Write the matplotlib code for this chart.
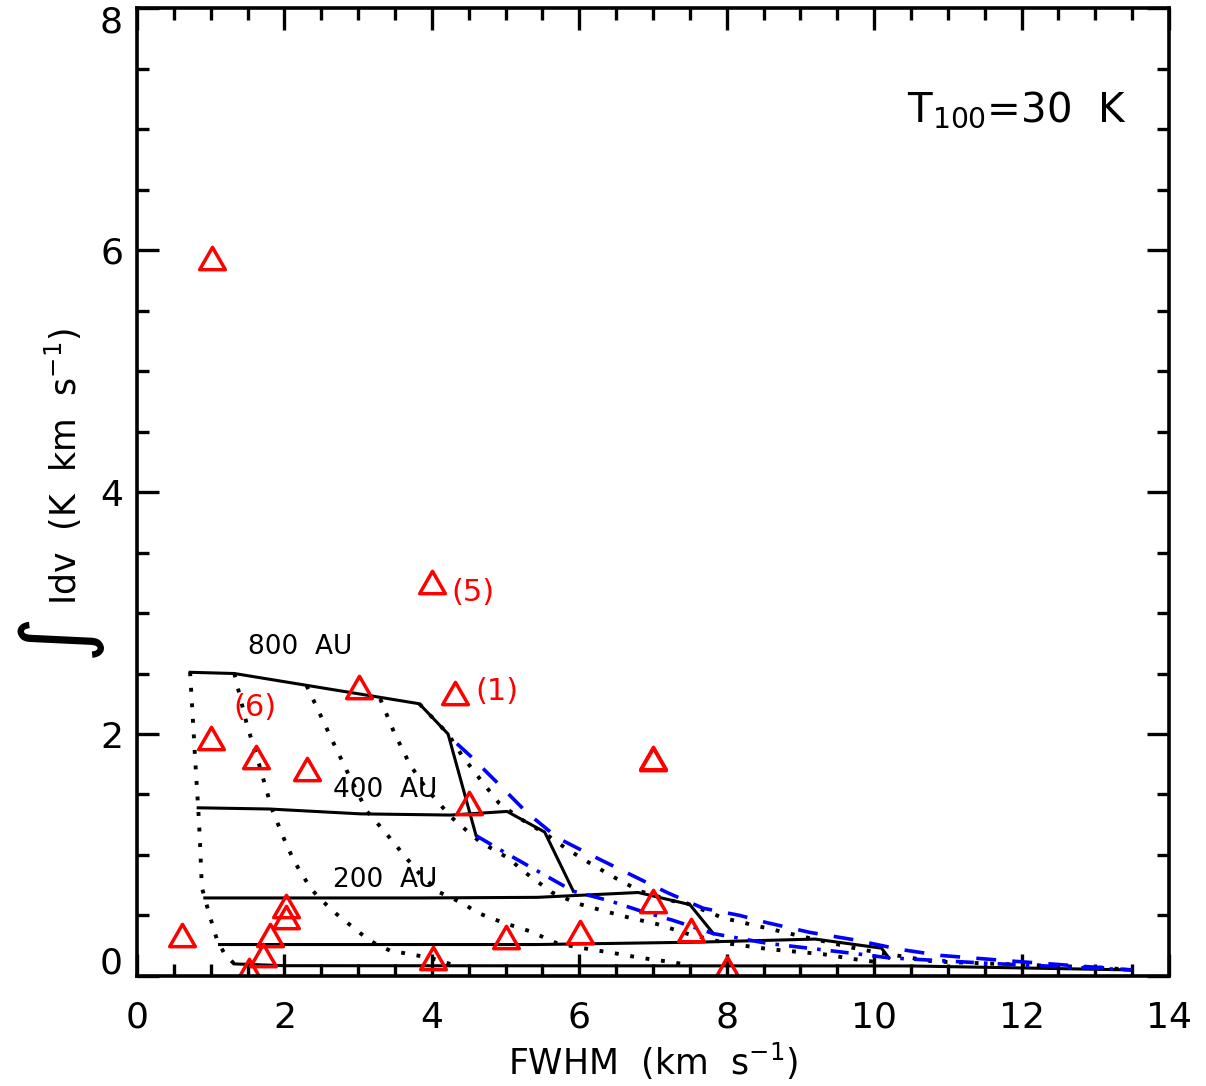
import numpy as np
import matplotlib
matplotlib.use("Agg")
import matplotlib.pyplot as plt
from matplotlib.path import Path

plt.rcParams['font.family'] = ['DejaVu Sans']
plt.rcParams['mathtext.fontset'] = 'dejavusans'

# observed sources: FWHM (km/s), integrated intensity (K km/s)
fwhm_obs = [1.02, 4.0, 3.01, 4.31, 1.0, 1.62, 2.31, 7.0, 7.0, 4.51,
            0.61, 2.02, 2.02, 1.8, 1.71, 1.52, 4.01, 5.01, 6.01, 7.0, 7.51, 8.0]
iint_obs = [5.93, 3.26, 2.39, 2.34, 1.97, 1.81, 1.71, 1.80, 1.79, 1.43,
            0.34, 0.58, 0.49, 0.34, 0.17, 0.05, 0.15, 0.32, 0.36, 0.62, 0.38, 0.07]

# source labels
src_names = ["(5)", "(1)", "(6)"]
src_x = [4.56, 4.88, 1.6]
src_y = [3.17, 2.35, 2.22]

# model grid: constant outer radius (solid)
r800_x = [0.72, 1.32, 3.83, 4.22, 4.60]
r800_y = [2.51, 2.50, 2.25, 2.00, 1.16]
r400_x = [0.83, 1.80, 3.03, 4.25, 5.02, 5.53, 5.92]
r400_y = [1.39, 1.38, 1.34, 1.33, 1.36, 1.19, 0.70]
r200_x = [0.92, 3.84, 5.43, 6.80, 7.50, 7.82]
r200_y = [0.645, 0.645, 0.65, 0.69, 0.59, 0.35]
r100_x = [1.12, 5.43, 7.64, 9.20, 10.10, 10.20]
r100_y = [0.26, 0.26, 0.28, 0.305, 0.23, 0.15]
r50_x = [1.32, 2.0, 10.5, 13.5]
r50_y = [0.10, 0.085, 0.083, 0.05]

# model grid: dotted curves
d1_x = [0.72, 0.76, 0.79, 0.83, 0.85, 0.88, 0.92, 0.98, 1.08, 1.12, 1.19, 1.32]
d1_y = [2.51, 2.10, 1.78, 1.39, 1.17, 0.73, 0.645, 0.51, 0.31, 0.26, 0.18, 0.10]
d2_x = [1.32, 1.49, 1.67, 1.83, 1.99, 2.13, 2.35, 2.47, 2.71, 3.16, 3.43, 3.98, 4.30]
d2_y = [2.50, 2.08, 1.72, 1.38, 1.14, 0.95, 0.73, 0.645, 0.51, 0.29, 0.21, 0.15, 0.09]
d3_x = [2.30, 2.44, 2.67, 2.89, 3.12, 3.35, 3.62, 3.84, 4.11, 4.42, 4.63, 4.97,
        5.33, 5.70, 6.05, 6.46, 6.83, 7.19, 7.50]
d3_y = [2.40, 2.22, 1.92, 1.64, 1.36, 1.20, 1.00, 0.84, 0.69, 0.60, 0.52, 0.44,
        0.37, 0.27, 0.23, 0.19, 0.15, 0.12, 0.09]
d4_x = [3.30, 3.49, 3.70, 3.91, 4.11, 4.25, 4.38, 4.65, 5.02, 5.30, 5.63, 5.97,
        6.32, 6.69, 7.05, 7.46, 8.00, 8.60, 9.31, 9.72, 10.10]
d4_y = [2.29, 2.01, 1.75, 1.56, 1.42, 1.32, 1.25, 1.11, 0.98, 0.84, 0.69, 0.60,
        0.54, 0.48, 0.43, 0.35, 0.27, 0.22, 0.18, 0.14, 0.11]
d5_x = [3.83, 4.22, 4.41, 4.65, 4.91, 5.20, 5.53, 5.83, 6.15, 6.49, 6.83, 7.27,
        7.46, 7.95, 9.00, 9.81, 10.80, 11.70, 13.06, 13.50]
d5_y = [2.25, 2.00, 1.82, 1.63, 1.43, 1.30, 1.18, 1.05, 0.93, 0.81, 0.70, 0.62,
        0.60, 0.48, 0.33, 0.22, 0.12, 0.10, 0.07, 0.05]

# envelopes (blue)
env_hi_x = [4.34, 4.52, 4.90, 5.29, 5.71, 6.19, 6.69, 7.19, 7.68, 8.18, 8.55,
            9.13, 9.72, 10.35, 10.90, 11.94, 13.50]
env_hi_y = [1.92, 1.82, 1.59, 1.35, 1.14, 0.99, 0.84, 0.69, 0.56, 0.50, 0.44,
            0.36, 0.30, 0.22, 0.17, 0.12, 0.05]
env_lo_x = [4.60, 5.02, 5.60, 5.92, 6.42, 6.82, 7.27, 7.82, 8.55, 9.81, 10.20,
            11.70, 13.50]
env_lo_y = [1.16, 1.01, 0.81, 0.70, 0.62, 0.54, 0.46, 0.35, 0.27, 0.18, 0.15,
            0.10, 0.05]

radius_labels = ["800  AU", "400  AU", "200  AU"]
radius_lab_x = [2.21, 3.36, 3.36]
radius_lab_y = [2.72, 1.54, 0.79]

fig = plt.figure(figsize=(12.06, 10.86), dpi=100)
ax = fig.add_axes([0.1136, 0.1013, 0.8557, 0.8913])

for xs, ys in [(r800_x, r800_y), (r400_x, r400_y), (r200_x, r200_y),
               (r100_x, r100_y), (r50_x, r50_y)]:
    ax.plot(xs, ys, color='k', lw=2.2, solid_joinstyle='miter')

for xs, ys in [(d1_x, d1_y), (d2_x, d2_y), (d3_x, d3_y), (d4_x, d4_y), (d5_x, d5_y)]:
    ax.plot(xs, ys, color='k', lw=2.8, linestyle=(0, (1, 3.0)), dash_capstyle='butt')

ax.plot(env_hi_x, env_hi_y, color='#0000ff', lw=2.6, linestyle=(0, (5.5, 4.5)))
ax.plot(env_lo_x, env_lo_y, color='#0000ff', lw=2.6, linestyle=(0, (5, 2.8, 1, 2.8)))

# open triangle centred on the point
tri = Path([(-1, -0.87), (1, -0.87), (0, 0.87), (0, 0)], closed=True)
ax.plot(fwhm_obs, iint_obs, linestyle='none', marker=tri, markersize=18.5,
        markerfacecolor='none', markeredgecolor='red', markeredgewidth=2.5)

for name, x, y in zip(src_names, src_x, src_y):
    ax.text(x, y, name, color='red', fontsize=22, ha='center', va='center')

for lab, x, y in zip(radius_labels, radius_lab_x, radius_lab_y):
    ax.text(x, y, lab, color='k', fontsize=19, ha='center', va='center')

ax.text(0.959, 0.895, r"T$_{100}$=30  K", transform=ax.transAxes, fontsize=29,
        ha='right', va='center')

ax.set_xlim(0, 14)
ax.set_ylim(0, 8)
ax.set_xticks(np.arange(0, 15, 2))
ax.set_xticks(np.arange(0, 14.01, 0.5), minor=True)
ax.set_yticks(np.arange(0, 9, 2))
ax.set_yticks(np.arange(0, 8.01, 0.5), minor=True)
ax.set_yticklabels(['', '2', '4', '6', ''])
# end labels of the y axis sit just inside the frame
ax.annotate('0', xy=(0, 0), xycoords=('axes fraction', 'data'), xytext=(-14, 12),
            textcoords='offset pixels', ha='right', va='center', fontsize=26)
ax.annotate('8', xy=(0, 8), xycoords=('axes fraction', 'data'), xytext=(-14, -14),
            textcoords='offset pixels', ha='right', va='center', fontsize=26)

ax.tick_params(which='both', direction='in', top=True, right=True, width=2.4,
               labelsize=26)
ax.tick_params(which='major', length=16)
ax.tick_params(which='minor', length=8.5)
ax.tick_params(axis='x', pad=18)
ax.tick_params(axis='y', pad=10)
for sp in ax.spines.values():
    sp.set_linewidth(2.6)

ax.set_xlabel(r"FWHM  (km  s$^{-1}$)", fontsize=25, labelpad=4)
fig.text(63 / 1206, 1 - 466 / 1086, r"Idv  (K  km  s$^{-1}$)", rotation=90,
         fontsize=25, ha='center', va='center')
fig.text(56 / 1206, 1 - 634 / 1086, "\u222b", rotation=90, fontsize=64,
         ha='center', va='center')

fig.savefig("out.png", dpi=100)
